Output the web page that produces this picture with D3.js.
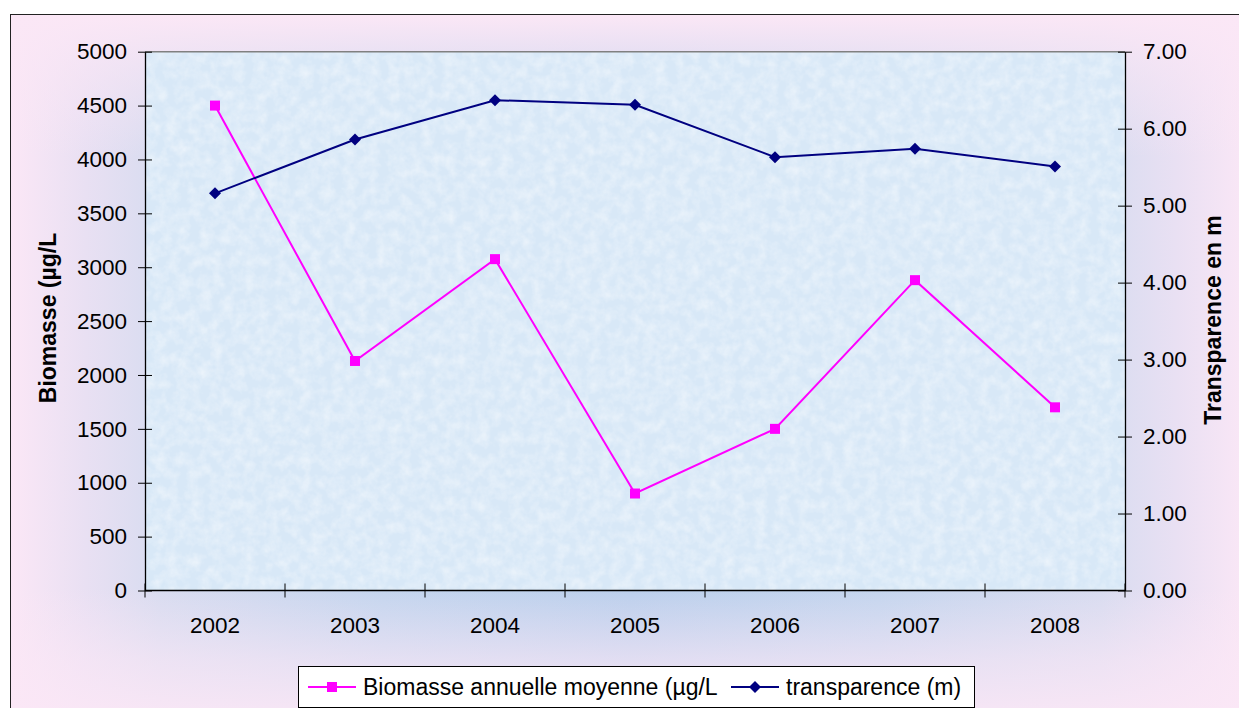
<!DOCTYPE html>
<html>
<head>
<meta charset="utf-8">
<script src="https://cdn.jsdelivr.net/npm/d3@7"></script>
<style>
  body { margin: 0; background: #ffffff; }
  svg { display: block; font-family: "Liberation Sans", Arial, sans-serif; }
</style>
</head>
<body>
<svg id="chart" width="1239" height="708"></svg>
<script>
// values
const years = ["2002", "2003", "2004", "2005", "2006", "2007", "2008"];
const biomasse = [4500, 2130, 3075, 900, 1500, 2880, 1700];
const transparence = [5.16, 5.86, 6.37, 6.31, 5.63, 5.74, 5.51];
const leftTicks = [0, 500, 1000, 1500, 2000, 2500, 3000, 3500, 4000, 4500, 5000];
const rightTicks = [0, 1, 2, 3, 4, 5, 6, 7];
const seriesNames = ["Biomasse annuelle moyenne (µg/L", "transparence (m)"];
const axisTitles = ["Biomasse (µg/L", "Transparence en m"];

const COLOR = {
  BIOMASSE: "#ff00ff",
  TRANSP: "#000080",
  EDGE: "#fbe7f6"
};

const svg = d3.select("#chart");
const plot = { left: 145, right: 1125, top: 51.7, bottom: 590.5 };
const frame = { x: 10.5, y: 14.5, w: 1240, h: 716 };

const x = d3.scaleBand().domain(years).range([plot.left, plot.right]);
const yLeft = d3.scaleLinear().domain([0, 5000]).range([plot.bottom, plot.top]);
const yRight = d3.scaleLinear().domain([0, 7]).range([plot.bottom, plot.top]);
const cx = function (d) { return x(d) + x.bandwidth() / 2; };

// gradients (rectangular "from centre" look) + paper texture
const defs = svg.append("defs");
const bgH = defs.append("linearGradient")
  .attr("id", "bgH")
  .attr("x1", 0).attr("x2", 1).attr("y1", 0).attr("y2", 0);
[[0, COLOR.EDGE], [0.06, "#e9e0f3"], [0.12, "#d8dcf0"], [0.3, "#c3d5ee"], [0.5, "#bacfec"],
  [0.7, "#c3d5ee"], [0.88, "#d8dcf0"], [0.94, "#e9e0f3"], [1, COLOR.EDGE]].forEach(function (s) {
  bgH.append("stop").attr("offset", s[0]).attr("stop-color", s[1]);
});
const bgV = defs.append("linearGradient")
  .attr("id", "bgV")
  .attr("x1", 0).attr("x2", 0).attr("y1", 0).attr("y2", 1);
[[0, 1], [0.07, 0.6], [0.2, 0], [0.8, 0], [0.9, 0.6], [1, 1]].forEach(function (s) {
  bgV.append("stop").attr("offset", s[0]).attr("stop-color", COLOR.EDGE).attr("stop-opacity", s[1]);
});

const tex = defs.append("filter").attr("id", "paper")
  .attr("x", 0).attr("y", 0).attr("width", 1).attr("height", 1);
tex.append("feTurbulence")
  .attr("type", "fractalNoise")
  .attr("baseFrequency", 0.09)
  .attr("numOctaves", 3)
  .attr("seed", 4)
  .attr("result", "noise");
tex.append("feColorMatrix")
  .attr("in", "noise")
  .attr("type", "matrix")
  .attr("values", "0 0 0 0 1  0 0 0 0 1  0 0 0 0 1  0 0 0 -1.6 1.05")
  .attr("result", "spots");
tex.append("feComposite").attr("in", "spots").attr("in2", "SourceGraphic").attr("operator", "in");

// chart area frame
svg.append("rect")
  .attr("x", frame.x).attr("y", frame.y)
  .attr("width", frame.w).attr("height", frame.h)
  .attr("fill", "url(#bgH)");
svg.append("rect")
  .attr("x", frame.x).attr("y", frame.y)
  .attr("width", frame.w).attr("height", frame.h)
  .attr("fill", "url(#bgV)")
  .attr("stroke", "#222")
  .attr("stroke-width", 1);

// plot area
svg.append("rect")
  .attr("x", plot.left).attr("y", plot.top)
  .attr("width", plot.right - plot.left).attr("height", plot.bottom - plot.top)
  .attr("fill", "#d8e8f7");
svg.append("rect")
  .attr("x", plot.left).attr("y", plot.top)
  .attr("width", plot.right - plot.left).attr("height", plot.bottom - plot.top)
  .attr("fill", "#ffffff")
  .attr("opacity", 0.5)
  .attr("filter", "url(#paper)");
svg.append("line")
  .attr("x1", plot.left).attr("x2", plot.right)
  .attr("y1", plot.top).attr("y2", plot.top)
  .attr("stroke", "#808080").attr("stroke-width", 1.5);

// left axis
const gLeft = svg.append("g")
  .attr("transform", "translate(" + plot.left + ",0)")
  .call(d3.axisLeft(yLeft).tickValues(leftTicks).tickFormat(d3.format("d"))
    .tickSize(7).tickPadding(11).tickSizeOuter(0));
gLeft.selectAll(".tick line").attr("x1", 7);

// right axis
const gRight = svg.append("g")
  .attr("transform", "translate(" + plot.right + ",0)")
  .call(d3.axisRight(yRight).tickValues(rightTicks).tickFormat(d3.format(".2f"))
    .tickSize(7).tickPadding(11).tickSizeOuter(0));
gRight.selectAll(".tick line").attr("x1", -7);

// bottom axis, labels centred, ticks on the category edges
const gBottom = svg.append("g")
  .attr("transform", "translate(0," + plot.bottom + ")")
  .call(d3.axisBottom(x).tickSize(0).tickPadding(27));
gBottom.select(".domain").remove();
svg.append("line")
  .attr("x1", plot.left).attr("x2", plot.right)
  .attr("y1", plot.bottom).attr("y2", plot.bottom)
  .attr("stroke", "#000").attr("stroke-width", 1.3);
svg.append("g")
  .selectAll("line")
  .data(years.map(function (d) { return x(d); }).concat([plot.right]))
  .enter()
  .append("line")
  .attr("x1", function (d) { return d; })
  .attr("x2", function (d) { return d; })
  .attr("y1", plot.bottom - 7)
  .attr("y2", plot.bottom + 7)
  .attr("stroke", "#000");

svg.selectAll(".tick text")
  .attr("font-size", 22.5)
  .attr("font-family", "'Liberation Sans', Arial, sans-serif")
  .attr("fill", "#000");
svg.selectAll(".domain").attr("stroke", "#000").attr("stroke-width", 1.3);

// axis titles
svg.append("text")
  .attr("transform", "translate(48,318) rotate(-90)")
  .attr("text-anchor", "middle")
  .attr("dominant-baseline", "central")
  .attr("font-size", 23)
  .attr("font-weight", "bold")
  .text(axisTitles[0]);
svg.append("text")
  .attr("transform", "translate(1213,320) rotate(-90)")
  .attr("text-anchor", "middle")
  .attr("dominant-baseline", "central")
  .attr("font-size", 23)
  .attr("font-weight", "bold")
  .text(axisTitles[1]);

// series
const lineBio = d3.line()
  .x(function (d, i) { return cx(years[i]); })
  .y(function (d) { return yLeft(d); });
const lineTr = d3.line()
  .x(function (d, i) { return cx(years[i]); })
  .y(function (d) { return yRight(d); });

svg.append("path")
  .datum(biomasse)
  .attr("d", lineBio)
  .attr("fill", "none")
  .attr("stroke", COLOR.BIOMASSE)
  .attr("stroke-width", 2);

svg.append("path")
  .datum(transparence)
  .attr("d", lineTr)
  .attr("fill", "none")
  .attr("stroke", COLOR.TRANSP)
  .attr("stroke-width", 2);

const square = d3.symbol().type(d3.symbolSquare).size(100);
const diamond = d3.symbol().type(d3.symbolSquare).size(72);

svg.append("g")
  .selectAll("path")
  .data(biomasse)
  .enter()
  .append("path")
  .attr("d", square)
  .attr("transform", function (d, i) {
    return "translate(" + cx(years[i]) + "," + yLeft(d) + ")";
  })
  .attr("fill", COLOR.BIOMASSE);

svg.append("g")
  .selectAll("path")
  .data(transparence)
  .enter()
  .append("path")
  .attr("d", diamond)
  .attr("transform", function (d, i) {
    return "translate(" + cx(years[i]) + "," + yRight(d) + ") rotate(45)";
  })
  .attr("fill", COLOR.TRANSP);

// legend
const legend = svg.append("g");
legend.append("rect")
  .attr("x", 298.5).attr("y", 666.5)
  .attr("width", 676).attr("height", 41)
  .attr("fill", "#fff")
  .attr("stroke", "#000");

const legendItems = [
  { name: seriesNames[0], color: COLOR.BIOMASSE, x0: 308, mark: square, rot: 0 },
  { name: seriesNames[1], color: COLOR.TRANSP, x0: 731, mark: diamond, rot: 45 }
];

legendItems.forEach(function (d) {
  legend.append("line")
    .attr("x1", d.x0).attr("x2", d.x0 + 48)
    .attr("y1", 687).attr("y2", 687)
    .attr("stroke", d.color).attr("stroke-width", 2);
  legend.append("path")
    .attr("d", d.mark)
    .attr("transform", "translate(" + (d.x0 + 24) + ",687) rotate(" + d.rot + ")")
    .attr("fill", d.color);
  legend.append("text")
    .attr("x", d.x0 + 55)
    .attr("y", 695)
    .attr("font-size", 23)
    .text(d.name);
});
</script>
</body>
</html>
